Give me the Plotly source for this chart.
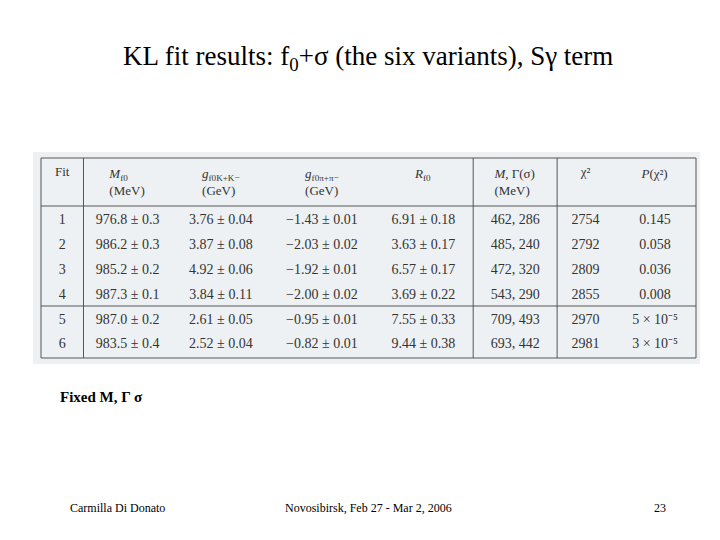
import plotly.graph_objects as go

fits = ["1", "2", "3", "4", "5", "6"]
m_f0 = ["976.8 ± 0.3", "986.2 ± 0.3", "985.2 ± 0.2", "987.3 ± 0.1", "987.0 ± 0.2", "983.5 ± 0.4"]
g_kk = ["3.76 ± 0.04", "3.87 ± 0.08", "4.92 ± 0.06", "3.84 ± 0.11", "2.61 ± 0.05", "2.52 ± 0.04"]
g_pipi = ["−1.43 ± 0.01", "−2.03 ± 0.02", "−1.92 ± 0.01", "−2.00 ± 0.02", "−0.95 ± 0.01", "−0.82 ± 0.01"]
r_f0 = ["6.91 ± 0.18", "3.63 ± 0.17", "6.57 ± 0.17", "3.69 ± 0.22", "7.55 ± 0.33", "9.44 ± 0.38"]
m_gamma_sigma = ["462, 286", "485, 240", "472, 320", "543, 290", "709, 493", "693, 442"]
chi2 = ["2754", "2792", "2809", "2855", "2970", "2981"]
p_chi2 = ["0.145", "0.058", "0.036", "0.008", "5 × 10⁻⁵", "3 × 10⁻⁵"]
headers = ["Fit", "<i>M</i><sub>f0</sub><br>(MeV)", "<i>g</i><sub>f0K+K−</sub><br>(GeV)",
           "<i>g</i><sub>f0π+π−</sub><br>(GeV)", "<i>R</i><sub>f0</sub>",
           "<i>M</i>, Γ(σ)<br>(MeV)", "χ²", "<i>P</i>(χ²)"]
col_widths = [41, 85, 95, 100, 96, 81, 55, 79]

bg = "#eef1f4"
x0, x1 = 33 / 720, 688 / 720
y_top, y_bot = 1 - 150 / 540, 1 - 350 / 540

fig = go.Figure(go.Table(
    domain=dict(x=[x0, x1], y=[y_bot, y_top]),
    columnwidth=col_widths,
    header=dict(values=headers, fill_color=bg, line_color=bg, height=40,
                font=dict(family="Liberation Serif", size=13, color="#333"),
                align="center"),
    cells=dict(values=[fits, m_f0, g_kk, g_pipi, r_f0, m_gamma_sigma, chi2, p_chi2],
               fill_color=bg, line_color=bg, height=24.8,
               font=dict(family="Liberation Serif", size=14, color="#333"),
               align="center"),
))

# table background panel and rules
shapes = [dict(type="rect", xref="paper", yref="paper", x0=25 / 720, x1=692 / 720,
               y0=1 - 356 / 540, y1=1 - 144 / 540, fillcolor=bg, line_width=0, layer="below"),
          dict(type="rect", xref="paper", yref="paper", x0=x0, x1=x1,
               y0=1 - 350 / 540, y1=1 - 150 / 540, line=dict(color="#555", width=1))]
total = sum(col_widths)
acc = 0
for i, w in enumerate(col_widths[:-1]):
    acc += w
    if i in (0, 4, 5):
        xv = x0 + (x1 - x0) * acc / total
        shapes.append(dict(type="line", xref="paper", yref="paper", x0=xv, x1=xv,
                           y0=1 - 350 / 540, y1=1 - 150 / 540, line=dict(color="#555", width=1)))
for yy in (1 - 198 / 540, 1 - 298 / 540):
    shapes.append(dict(type="line", xref="paper", yref="paper", x0=x0, x1=x1,
                       y0=yy, y1=yy, line=dict(color="#555", width=1.2)))

fig.update_layout(
    width=720, height=540, margin=dict(l=0, r=0, t=0, b=0),
    paper_bgcolor="white", plot_bgcolor="white", shapes=shapes,
    font=dict(family="Liberation Serif", color="black"),
    annotations=[
        dict(text="KL fit results: f<sub>0</sub>+σ (the six variants), Sγ term", x=0.5, y=1 - 50 / 540,
             xref="paper", yref="paper", yanchor="middle", showarrow=False, font=dict(size=27)),
        dict(text="<b>Fixed M, Γ σ</b>", x=50 / 720, y=1 - 389 / 540, xref="paper", yref="paper",
             xanchor="left", yanchor="middle", showarrow=False, font=dict(size=15)),
        dict(text="Carmilla Di Donato", x=60 / 720, y=1 - 500 / 540, xref="paper", yref="paper",
             xanchor="left", yanchor="middle", showarrow=False, font=dict(size=12)),
        dict(text="Novosibirsk, Feb 27 - Mar 2, 2006", x=0.5, y=1 - 500 / 540, xref="paper",
             yref="paper", yanchor="middle", showarrow=False, font=dict(size=12)),
        dict(text="23", x=660 / 720, y=1 - 500 / 540, xref="paper", yref="paper",
             xanchor="right", yanchor="middle", showarrow=False, font=dict(size=12)),
    ],
)
fig.write_html("out.html")
